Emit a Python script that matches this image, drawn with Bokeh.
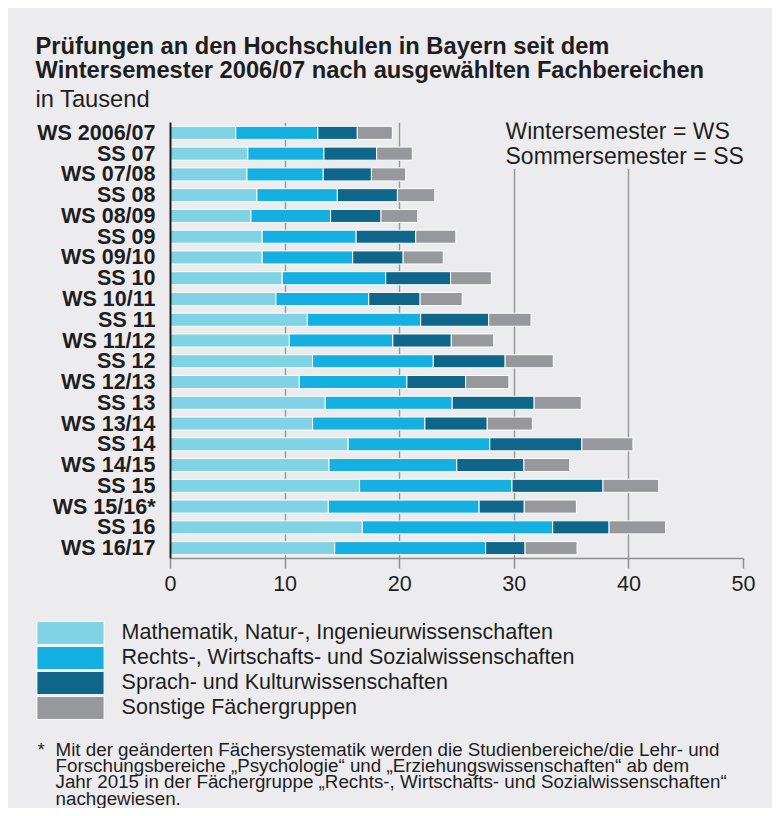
from bokeh.plotting import figure
from bokeh.models import Range1d, FactorRange, Label, Legend, LegendItem, ColumnDataSource, FixedTicker, Spacer
from bokeh.layouts import column, row
from bokeh.embed import file_html
from bokeh.resources import INLINE

# ---------------- data (in Tausend) ----------------
periods = ["WS 2006/07", "SS 07", "WS 07/08", "SS 08", "WS 08/09", "SS 09", "WS 09/10",
           "SS 10", "WS 10/11", "SS 11", "WS 11/12", "SS 12", "WS 12/13", "SS 13",
           "WS 13/14", "SS 14", "WS 14/15", "SS 15", "WS 15/16*", "SS 16", "WS 16/17"]
math_nat_ing = [5.7, 6.75, 6.67, 7.54, 7.02, 8.0, 8.0, 9.75, 9.2, 11.94, 10.37, 12.4, 11.24, 13.5,
                12.4, 15.5, 13.83, 16.5, 13.77, 16.74, 14.33]
rechts_wirt_soz = [7.16, 6.64, 6.66, 7.02, 6.95, 8.2, 7.9, 9.03, 8.1, 9.89, 9.03, 10.53, 9.39, 11.08,
                   9.8, 12.36, 11.15, 13.3, 13.16, 16.61, 13.17]
sprach_kultur = [3.44, 4.6, 4.2, 5.24, 4.4, 5.2, 4.4, 5.66, 4.48, 5.94, 5.1, 6.27, 5.12, 7.15,
                 5.44, 8.04, 5.86, 7.94, 3.94, 4.92, 3.44]
sonstige = [3.06, 3.11, 2.99, 3.26, 3.2, 3.5, 3.5, 3.56, 3.67, 3.69, 3.7, 4.2, 3.78, 4.12,
            3.94, 4.45, 4.0, 4.86, 4.55, 4.93, 4.53]
series_names = ["Mathematik, Natur-, Ingenieurwissenschaften",
                "Rechts-, Wirtschafts- und Sozialwissenschaften",
                "Sprach- und Kulturwissenschaften",
                "Sonstige Fächergruppen"]
series_colors = ["#80d3e4", "#15b0e2", "#0e668b", "#97989c"]
stack_fields = ["math", "law", "lang", "other"]
x_ticks = [0, 10, 20, 30, 40, 50]
x_max = 50

title_text = "Prüfungen an den Hochschulen in Bayern seit dem\nWintersemester 2006/07 nach ausgewählten Fachbereichen"
subtitle_text = "in Tausend"
note_box_text = "Wintersemester = WS\nSommersemester = SS"
footnote_text = ("Mit der geänderten Fächersystematik werden die Studienbereiche/die Lehr- und\n"
                 "Forschungsbereiche „Psychologie“ und „Erziehungswissenschaften“ ab dem\n"
                 "Jahr 2015 in der Fächergruppe „Rechts-, Wirtschafts- und Sozialwissenschaften“\n"
                 "nachgewiesen.")

# ---------------- layout / style ----------------
BG = "#ececee"
FONT = "Liberation Sans"
TXT = "#1e1e1e"
W = 764
H_HEAD, H_MAIN, H_FOOT = 106, 498, 196
FL, FR, FT, FB = 162, 735, 8, 444      # frame edges of the main chart in its own px

source = ColumnDataSource(dict(period=periods, math=math_nat_ing, law=rechts_wirt_soz,
                               lang=sprach_kultur, other=sonstige))


def text_panel(height):
    f = figure(width=W, height=height, output_backend="svg", toolbar_location=None,
               x_range=Range1d(0, W), y_range=Range1d(height, 0),
               x_axis_type=None, y_axis_type=None, min_border=0, frame_align=False,
               background_fill_color=BG, border_fill_color=BG, outline_line_color=None)
    return f


# ---- header ----
head = text_panel(H_HEAD)
head.add_layout(Label(x=27, y=24, text=title_text, text_font=FONT, text_font_size="23.7px",
                      text_font_style="bold", text_color=TXT, text_baseline="top",
                      text_line_height=0.96))
head.add_layout(Label(x=27, y=77, text=subtitle_text, text_font=FONT, text_font_size="23.7px",
                      text_color=TXT, text_baseline="top"))

# ---- main chart ----
p = figure(width=W, height=H_MAIN, output_backend="svg", toolbar_location=None,
           x_range=Range1d(0, x_max),
           y_range=FactorRange(factors=periods[::-1], range_padding=0),
           min_border_left=FL, min_border_right=W - FR,
           min_border_top=FT, min_border_bottom=H_MAIN - FB, frame_align=False,
           background_fill_color=BG, border_fill_color=BG, outline_line_color=None)

p.hbar_stack(stack_fields, y="period", height=0.63,
             fill_color=series_colors, line_color="white", line_width=1, source=source)

xa = p.xaxis[0]
xa.ticker = FixedTicker(ticks=x_ticks)
xa.axis_line_color = "#8e8e8e"
xa.axis_line_width = 1.5
xa.major_tick_line_color = "#8e8e8e"
xa.major_tick_line_width = 1.5
xa.major_tick_in = 0
xa.major_tick_out = 10
xa.minor_tick_line_color = None
xa.major_label_text_font = FONT
xa.major_label_text_font_size = "21.5px"
xa.major_label_text_color = TXT
xa.major_label_standoff = 7

ya = p.yaxis[0]
ya.axis_line_color = "#231f20"
ya.axis_line_width = 2
ya.major_tick_line_color = None
ya.minor_tick_line_color = None
ya.major_label_text_font = FONT
ya.major_label_text_font_size = "21.5px"
ya.major_label_text_font_style = "bold"
ya.major_label_text_color = TXT
ya.major_label_standoff = 9

p.xgrid.ticker = FixedTicker(ticks=x_ticks)
p.xgrid.grid_line_color = "#979797"
p.xgrid.grid_line_width = 1.4
p.ygrid.grid_line_color = None

XS = (FR - FL) / x_max
YS = (FB - FT) / len(periods)
p.add_layout(Label(x=(505 - 170) / XS, y=(FB - (117 - 114)) / YS, text=note_box_text,
                   text_font=FONT, text_font_size="23px", text_color=TXT,
                   text_baseline="top", text_line_height=0.98,
                   background_fill_color=BG))

# ---- footer: legend + footnote ----
foot = text_panel(H_FOOT)
# hidden copies of the stacked bars, used only to draw the legend swatches
legend_renderers = foot.hbar_stack(stack_fields, y=0, height=0, source=source,
                                   fill_color=series_colors, line_color="white", line_width=1,
                                   visible=False)
ITEM_PITCH = 25
for i, (name, rend) in enumerate(zip(series_names, legend_renderers)):
    lg = Legend(items=[LegendItem(label=name, renderers=[rend])],
                location=(19.6, 161.5 - ITEM_PITCH * i), orientation="vertical",
                glyph_width=84, glyph_height=29, label_height=29, spacing=0,
                padding=0, margin=0, label_standoff=10,
                label_text_font=FONT, label_text_font_size="21.5px", label_text_color=TXT,
                inactive_fill_alpha=0,
                background_fill_alpha=0, border_line_color=None)
    foot.add_layout(lg)

foot.add_layout(Label(x=29, y=126, text="*", text_font=FONT, text_font_size="18.8px",
                      text_color=TXT, text_baseline="top"))
foot.add_layout(Label(x=47, y=126, text=footnote_text, text_font=FONT, text_font_size="18.8px",
                      text_color=TXT, text_baseline="top", text_line_height=0.785))

inner = column(head, p, foot, styles={"background-color": BG})
layout = column(Spacer(height=8), row(Spacer(width=8), inner))
open("out.html", "w").write(file_html(layout, INLINE))
